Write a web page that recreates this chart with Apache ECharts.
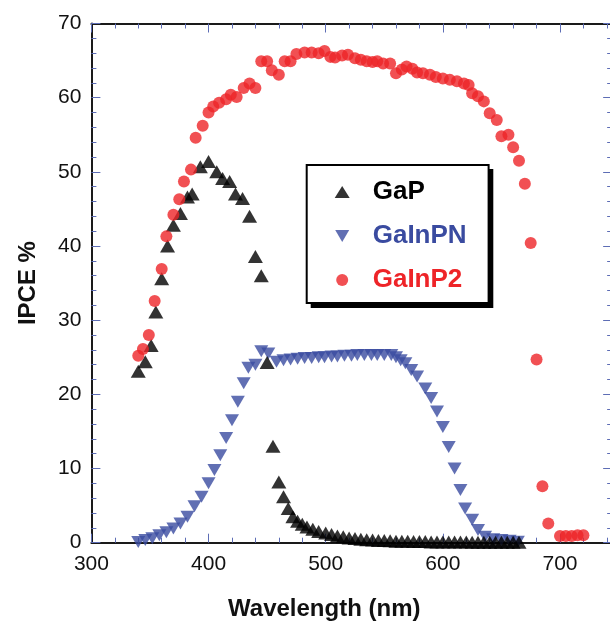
<!DOCTYPE html>
<html>
<head>
<meta charset="utf-8">
<script src="https://cdn.jsdelivr.net/npm/echarts@6/dist/echarts.min.js"></script>
<style>
html,body{margin:0;padding:0;background:#fff;}
#chart{width:610px;height:622px;}
</style>
</head>
<body>
<div id="chart"></div>
<script>
// ---- data ----
const seriesNames = ['GaP', 'GaInPN', 'GaInP2'];

const gapWl = [340,346,351,355,360,365,370,376,382,386,393,400,407,412,418,423,429,435,440,445,
  450,455,460,464,468,472,476,480,484,489,494,500,505,510,515,520,525,530,535,540,
  545,550,555,560,565,570,575,580,585,590,595,600,605,610,615,620,625,630,635,640,
  645,650,655,660,665];
const gapVal = [23.1,24.4,26.6,31.1,35.6,40.0,42.8,44.4,46.6,47.0,50.7,51.4,50.0,49.1,48.7,47.0,46.4,44.0,38.6,36.0,
  24.3,13.0,8.2,6.2,4.6,3.5,2.9,2.5,2.1,1.8,1.5,1.3,1.1,0.9,0.8,0.65,0.55,0.45,0.4,0.35,
  0.3,0.3,0.25,0.2,0.2,0.2,0.15,0.15,0.15,0.1,0.1,0.1,0.1,0.1,0.1,0.1,0.05,0.05,0.05,0.05,
  0.05,0.05,0.05,0.05,0.05];

const ganWl = [340,346,352,358,364,370,376,382,388,394,400,405,410,415,420,425,430,434,440,445,
  451,458,464,470,476,482,488,494,499,505,510,516,522,527,533,539,544,550,556,560,
  564,568,573,578,585,590,595,600,605,610,615,619,625,630,636,643,650,657,664];
const ganVal = [0.1,0.35,0.6,1.0,1.4,1.9,2.6,3.5,4.9,6.2,8.0,9.8,11.8,14.1,16.5,19.0,21.5,23.6,24.0,25.8,
  25.5,24.4,24.6,24.7,24.8,24.9,24.9,25.0,25.0,25.1,25.1,25.2,25.2,25.3,25.3,25.3,25.3,25.3,25.3,25.0,
  24.6,24.2,23.3,22.4,20.8,19.5,17.7,15.6,12.9,10.0,7.1,4.6,3.1,1.7,0.8,0.45,0.35,0.27,0.13];

const gip2Wl = [340,344,349,354,360,364,370,375,379,385,389,395,400,404,409,415,419,424,430,435,
  440,445,450,454,460,465,470,475,482,488,494,499,504,508,514,519,525,530,535,540,
  544,549,555,560,565,569,574,578,583,589,594,600,606,612,618,622,625,630,635,640,
  646,650,656,660,665,670,675,680,685,690,700,705,710,715,720];
const gip2Val = [25.2,26.1,28.0,32.6,36.9,41.3,44.2,46.3,48.7,50.3,54.6,56.2,58.0,58.8,59.3,59.8,60.4,60.1,61.3,61.9,
  61.3,64.9,64.9,63.7,63.1,64.9,64.9,65.9,66.1,66.1,66.0,66.3,65.5,65.4,65.7,65.8,65.3,65.1,64.9,64.8,
  64.9,64.6,64.6,63.3,63.8,64.2,63.9,63.4,63.3,63.1,62.8,62.6,62.4,62.2,61.9,61.7,60.6,60.2,59.5,57.9,
  57.0,54.8,55.0,53.3,51.5,48.4,40.4,24.7,7.6,2.6,0.9,0.9,0.9,1.0,1.0];

const xTicks = {min: 300, max: 800, interval: 100};
const yTicks = {min: 0, max: 70, interval: 10};

// ---- chart ----
const RED = '#EE2428', BLUE = '#3A4BA0', BLACK = '#000000';
const TICK = '#5D6DB5';
const DOWN_TRI = 'path://M0,0 L14,0 L7,12 Z';
const zip = (a, b) => a.map((v, i) => [v, b[i]]);
const font = 'Liberation Sans, Arial, Helvetica, sans-serif';

const chart = echarts.init(document.getElementById('chart'), null, {renderer: 'canvas'});

const axisCommon = {
  axisLine: {show: true, onZero: false, lineStyle: {color: '#1a1a1a', width: 2}},
  axisTick: {show: true, inside: true, length: 9, lineStyle: {color: TICK, width: 1}},
  minorTick: {show: true, splitNumber: 5, length: 5, lineStyle: {color: TICK, width: 1}},
  splitLine: {show: false},
  minorSplitLine: {show: false}
};

const LG = {left: 306.7, top: 165, w: 182.6, h: 139};

chart.setOption({
  animation: false,
  backgroundColor: '#fff',
  grid: {left: 91.4, top: 23.5, width: 585.75, height: 519.2, containLabel: false, outerBoundsMode: 'none'},
  xAxis: [
    Object.assign({
      type: 'value', position: 'bottom',
      min: xTicks.min, max: xTicks.max, interval: xTicks.interval,
      name: 'Wavelength (nm)', nameLocation: 'middle', nameGap: 55,
      nameTextStyle: {fontSize: 24, fontWeight: 'bold', color: '#111', fontFamily: font, padding: [0, 120, 0, 0]},
      axisLabel: {fontSize: 21, color: '#111', fontFamily: font, margin: 11}
    }, axisCommon),
    Object.assign({
      type: 'value', position: 'top',
      min: xTicks.min, max: xTicks.max, interval: xTicks.interval,
      axisLabel: {show: false}
    }, axisCommon)
  ],
  yAxis: [
    Object.assign({
      type: 'value', position: 'left',
      min: yTicks.min, max: yTicks.max, interval: yTicks.interval,
      name: 'IPCE %', nameLocation: 'middle', nameGap: 51,
      nameTextStyle: {fontSize: 24, fontWeight: 'bold', color: '#111', fontFamily: font},
      axisLabel: {fontSize: 21, color: '#111', fontFamily: font, margin: 10}
    }, axisCommon),
    Object.assign({
      type: 'value', position: 'right', offset: -65,
      min: yTicks.min, max: yTicks.max, interval: yTicks.interval,
      axisLabel: {show: false}
    }, axisCommon)
  ],
  graphic: [{
    type: 'rect', z: 1, silent: true,
    shape: {x: LG.left + 4, y: LG.top + 4, width: LG.w, height: LG.h},
    style: {fill: '#000'}
  }],
  legend: {
    orient: 'vertical',
    left: LG.left, top: LG.top,
    padding: [14, 22, 10, 28],
    itemWidth: 15, itemHeight: 12, itemGap: 18,
    symbolKeepAspect: true,
    backgroundColor: '#fff',
    borderColor: '#000', borderWidth: 2, borderRadius: 0,
    z: 5,
    textStyle: {fontSize: 26, fontWeight: 'bold', fontFamily: font, padding: [0, 0, 0, 18]},
    data: [
      {name: seriesNames[0], textStyle: {color: BLACK}},
      {name: seriesNames[1], textStyle: {color: BLUE}},
      {name: seriesNames[2], textStyle: {color: RED}}
    ]
  },
  series: [
    {
      name: seriesNames[1], type: 'scatter', xAxisIndex: 0, yAxisIndex: 0,
      symbol: DOWN_TRI, symbolSize: [14, 12],
      itemStyle: {color: BLUE}, z: 2,
      data: zip(ganWl, ganVal)
    },
    {
      name: seriesNames[0], type: 'scatter', xAxisIndex: 0, yAxisIndex: 0,
      symbol: 'triangle', symbolSize: [15, 13],
      itemStyle: {color: BLACK}, z: 3,
      data: zip(gapWl, gapVal)
    },
    {
      name: seriesNames[2], type: 'scatter', xAxisIndex: 0, yAxisIndex: 0,
      symbol: 'circle', symbolSize: 12,
      itemStyle: {color: RED}, z: 4,
      data: zip(gip2Wl, gip2Val)
    }
  ]
});
</script>
</body>
</html>
